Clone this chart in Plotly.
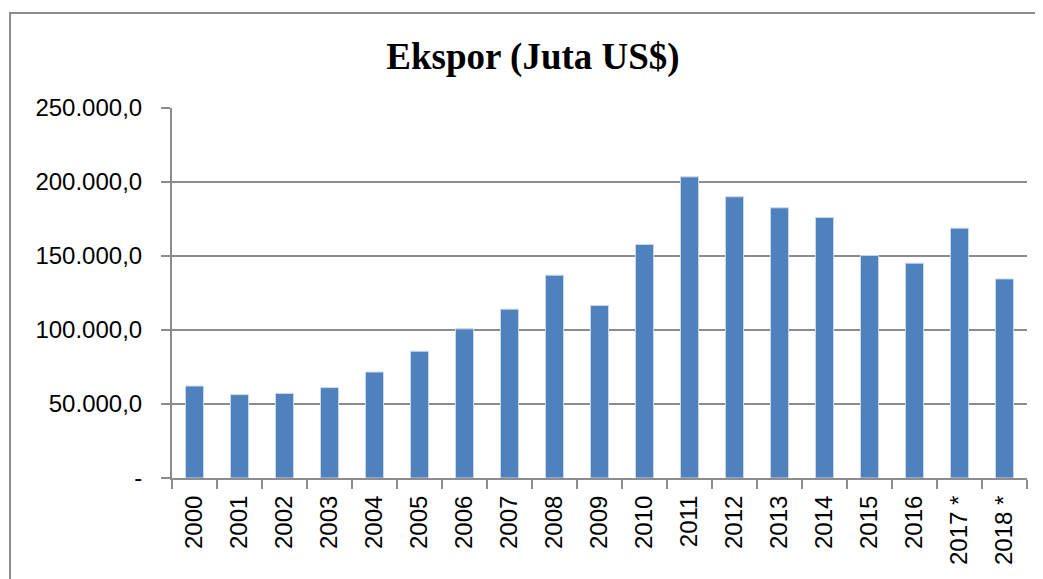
import plotly.graph_objects as go

years = ["2000", "2001", "2002", "2003", "2004", "2005", "2006", "2007", "2008", "2009",
         "2010", "2011", "2012", "2013", "2014", "2015", "2016", "2017 *", "2018 *"]
ekspor = [62124.0, 56320.9, 57158.8, 61058.2, 71584.6, 85660.0, 100798.6, 114100.9, 137020.4, 116510.0,
          157779.1, 203496.6, 190020.3, 182551.8, 175980.0, 150366.3, 145134.0, 168828.2, 134500.0]
y_ticks = [0, 50000, 100000, 150000, 200000, 250000]
y_labels = ["-", "50.000,0", "100.000,0", "150.000,0", "200.000,0", "250.000,0"]

# page body has an 8px default margin, so the figure is sized to fit the window
OFF = 8
W, H = 1043 - OFF, 579 - OFF
L, T = 172 - OFF, 108 - OFF
R = W - (1027 - OFF)
B = H - (478 - OFF)
pw, ph = W - L - R, H - T - B

fig = go.Figure()
fig.add_trace(go.Bar(
    x=years, y=ekspor,
    marker=dict(color="#4F81BD", line=dict(color="#C9D7EA", width=1)),
    hoverinfo="x+y",
))

grid = "#8C8C8C"
fig.update_layout(
    width=W, height=H,
    margin=dict(l=L, r=R, t=T, b=B, autoexpand=False),
    paper_bgcolor="white", plot_bgcolor="white",
    showlegend=False,
    bargap=0.6,
    title=dict(text="<b>Ekspor (Juta US$)</b>",
               font=dict(family="Liberation Serif", size=37, color="black"),
               x=(533 - OFF) / W, xanchor="center",
               y=1 - (56 - OFF) / H, yanchor="middle"),
    font=dict(family="Liberation Sans", size=24, color="black"),
    xaxis=dict(
        type="category",
        tickangle=-90,
        showline=True, linecolor=grid, linewidth=2,
        ticks="outside", tickson="boundaries", ticklen=9, tickcolor=grid, tickwidth=2,
        showgrid=False,
        automargin=False,
        ticklabelstandoff=6,
        tickfont=dict(family="Liberation Sans", size=24),
    ),
    yaxis=dict(
        range=[0, 250000],
        tickvals=y_ticks, ticktext=y_labels,
        showline=True, linecolor=grid, linewidth=2,
        ticks="outside", ticklen=9, tickcolor=grid, tickwidth=2,
        showgrid=True, gridcolor=grid, gridwidth=2,
        zeroline=False,
        automargin=False,
        ticklabelstandoff=14,
        tickfont=dict(family="Liberation Sans", size=24),
    ),
    shapes=[dict(
        type="rect", xref="paper", yref="paper",
        x0=(10 - OFF - L) / pw, x1=(W + 20 - L) / pw,
        y0=-(H + 20 - T - ph) / ph, y1=1 + (T - (13 - OFF)) / ph,
        line=dict(color="#8C8C8C", width=2), fillcolor="rgba(0,0,0,0)", layer="below",
    )],
)

fig.write_html("out.html")
